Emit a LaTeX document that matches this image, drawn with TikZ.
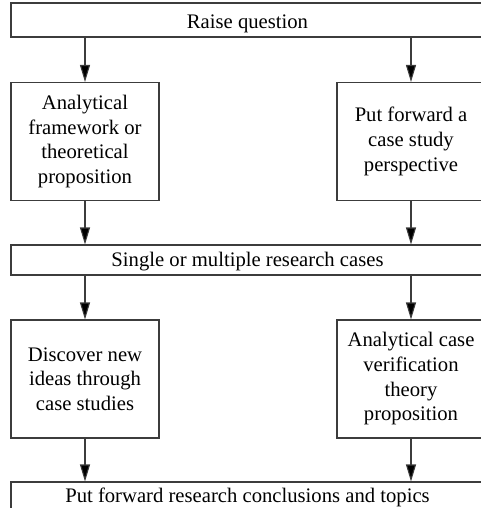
\documentclass[tikz,border=0pt]{standalone}
\usepackage{fontspec}
\setmainfont{Liberation Serif}
\usepackage{tikz}
\usetikzlibrary{arrows.meta,positioning}
\usepackage{xcolor}
\definecolor{lineg}{RGB}{60,60,60}
\tikzstyle{bar} = [draw=lineg, line width=0.8pt, minimum width=354.75pt, inner sep=0pt, font=\fontsize{15.5pt}{18.5pt}\selectfont]
\tikzstyle{box} = [draw=lineg, line width=0.8pt, minimum width=111pt, minimum height=88.5pt, inner sep=0pt, align=center, font=\fontsize{15.5pt}{18.5pt}\selectfont]
\tikzstyle{arrow} = [line width=0.8pt, color=lineg, -{Triangle[length=12.75pt,width=7.5pt,fill=black]}]

\begin{document}
\begin{tikzpicture}[x=0.75pt, y=-0.75pt]
\useasboundingbox (0,0) rectangle (481,508);
\clip (0,0) rectangle (481,508);

% Bars across the page
\node[bar, minimum height=25.5pt, text height=15pt, text depth=1.7pt] (raise) at (247.5,20) {Raise question};
\node[bar, minimum height=22.5pt, text height=12pt, text depth=1.7pt] (cases) at (247.5,260) {Single or multiple research cases};
\node[bar, minimum height=28.5pt, text height=10pt, text depth=8.5pt] (concl) at (247.5,501) {Put forward research conclusions and topics};

% Boxes
\node[box] (frame) at (85,141.5) {Analytical\\framework or\\theoretical\\proposition};
\node[box] (persp) at (411,141.5) {Put forward a\\case study\\perspective};
\node[box] (ideas) at (85,379) {Discover new\\ideas through\\case studies};
\node[box] (verif) at (411,379) {Analytical case\\verification\\theory\\proposition};

% Arrows
\draw[arrow] (frame.north |- raise.south) -- (frame.north);
\draw[arrow] (persp.north |- raise.south) -- (persp.north);
\draw[arrow] (frame.south) -- (frame.south |- cases.north);
\draw[arrow] (persp.south) -- (persp.south |- cases.north);
\draw[arrow] (ideas.north |- cases.south) -- (ideas.north);
\draw[arrow] (verif.north |- cases.south) -- (verif.north);
\draw[arrow] (ideas.south) -- (ideas.south |- concl.north);
\draw[arrow] (verif.south) -- (verif.south |- concl.north);
\end{tikzpicture}
\end{document}
